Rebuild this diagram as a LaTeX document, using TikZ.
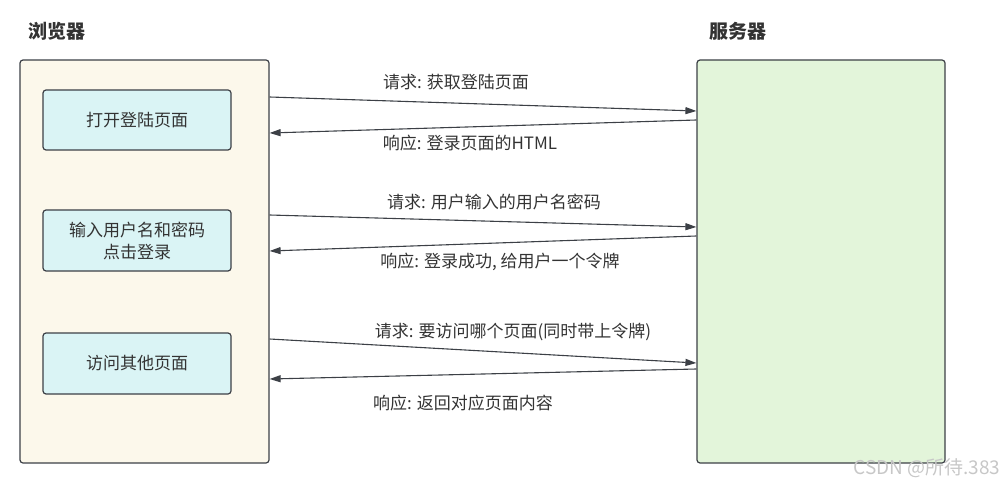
\documentclass[tikz,border=0pt]{standalone}
\usepackage{fontspec}
\setmainfont{Noto Sans CJK SC}
\usetikzlibrary{arrows.meta}
\definecolor{edgegray}{HTML}{3C4046}
\definecolor{textgray}{HTML}{333333}
\definecolor{browserfill}{HTML}{FCF8EB}
\definecolor{pagefill}{HTML}{DAF4F5}
\definecolor{serverfill}{HTML}{E3F5DA}
\tikzset{
  panel/.style={draw=edgegray,line width=1.2pt,rounded corners=3pt,inner sep=0pt},
  stepbox/.style={panel,fill=pagefill,minimum width=188pt,minimum height=60pt,
    align=center,text=textgray,font=\fontsize{17}{22}\selectfont},
  msg/.style={draw=edgegray,line width=1.1pt,-{Triangle[length=11pt,width=7pt]}},
  msglabel/.style={text=textgray,font=\fontsize{17}{20}\selectfont},
  title/.style={text=textgray,font=\fontsize{19}{22}\selectfont\bfseries}
}
\begin{document}
\begin{tikzpicture}[x=1pt,y=-1pt]
\useasboundingbox (0,0) rectangle (1008,486);
% two sides
\node[title,anchor=west] (browsertitle) at (25,31) {浏览器};
\node[title,anchor=west] (servertitle) at (706,31) {服务器};
\node[panel,fill=browserfill,minimum width=249pt,minimum height=403pt] (browser) at (144.5,261.5) {};
\node[panel,fill=serverfill,minimum width=248pt,minimum height=403pt] (server) at (821,261.5) {};
% steps in the browser
\node[stepbox] (open) at (137,120) {打开登陆页面};
\node[stepbox,minimum height=61pt] (login) at (137,240.5) {输入用户名和密码\\点击登录};
\node[stepbox,minimum height=61pt] (visit) at (137,363.5) {访问其他页面};
% requests and responses
\draw[msg] (browser.east |- 0,97) -- (server.west |- 0,111);
\draw[msg] (server.west |- 0,120) -- (browser.east |- 0,133);
\node[msglabel] (req1) at (456,82) {请求: 获取登陆页面};
\node[msglabel] (res1) at (470,143) {响应: 登录页面的HTML};
\draw[msg] (browser.east |- 0,215) -- (server.west |- 0,227);
\draw[msg] (server.west |- 0,236) -- (browser.east |- 0,251);
\node[msglabel] (req2) at (494,202) {请求: 用户输入的用户名密码};
\node[msglabel] (res2) at (500,262) {响应: 登录成功, 给用户一个令牌};
\draw[msg] (browser.east |- 0,339) -- (server.west |- 0,363);
\draw[msg] (server.west |- 0,369) -- (browser.east |- 0,379);
\node[msglabel] (req3) at (513,332) {请求: 要访问哪个页面(同时带上令牌)};
\node[msglabel] (res3) at (463,403) {响应: 返回对应页面内容};
% watermark
\node[text=black!22,font=\fontsize{19}{22}\selectfont,anchor=east] (mark) at (1004,468) {CSDN @所待.383};
\end{tikzpicture}
\end{document}
